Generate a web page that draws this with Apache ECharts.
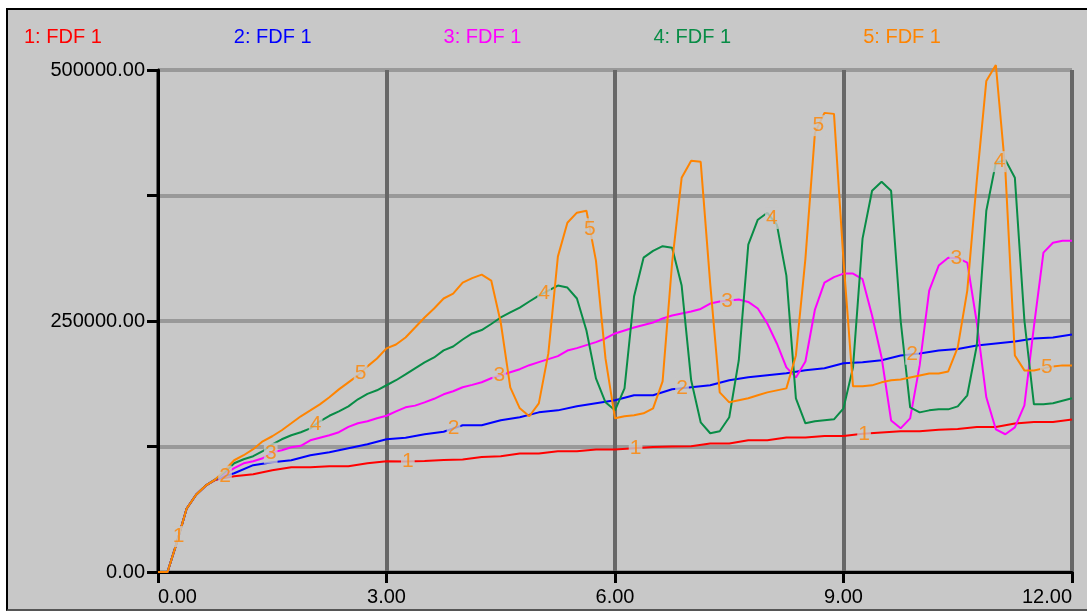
<!DOCTYPE html>
<html>
<head>
<meta charset="utf-8">
<script src="https://cdn.jsdelivr.net/npm/echarts@6/dist/echarts.min.js"></script>
<style>
  html, body { margin:0; padding:0; background:#ffffff; width:1087px; height:611px; overflow:hidden; }
  #frame { position:absolute; left:6px; top:8px; width:1100px; height:599px; background:#c8c8c8;
           border-top:2px solid #000; border-left:2px solid #000; border-bottom:2px solid #555; }
  #chart { position:absolute; left:0; top:0; width:1087px; height:611px; }
</style>
</head>
<body>
<div id="frame"></div>
<div id="chart"></div>
<script>
// time axes
const tFine = Array.from({length: 97}, (_, i) => i * 0.125);
const tCoarse = [0, 0.125, 0.25, 0.375, 0.5, 0.625, 0.75, 0.875]
  .concat(Array.from({length: 45}, (_, i) => 1 + i * 0.25));

const xTicks = [0, 3, 6, 9, 12];
const yLabelValues = [0, 250000, 500000];

const seriesNames = ['1: FDF 1', '2: FDF 1', '3: FDF 1', '4: FDF 1', '5: FDF 1'];
const seriesColors = ['#ff0000', '#0000ff', '#ff00ff', '#088c46', '#ff8400'];

const red = [0,0,30000,63000,77000,86000,91500,93500,
 95400,97400,101400,104400,104400,105400,105400,108300,
 110300,110000,110500,111500,112000,114500,115300,118000,
 118000,120300,120300,122000,122000,123300,124500,125000,
 125300,128000,128000,131200,131200,133900,133900,135500,
 135500,137600,139000,140200,140200,141800,142500,144500,
 144500,148000,149400,149400,151800];

const blue = [0,0,30000,63000,77000,86000,92000,95400,
 98400,106400,109300,111300,116300,119300,123300,127200,
 132200,133700,137200,139700,146100,146100,151100,154100,
 159000,161000,165000,168000,171000,176000,176000,182000,
 184000,186000,191000,194000,196000,198000,201000,203000,
 208000,209000,211000,215700,217700,220700,222200,225600,
 227600,229600,232600,233600,236600];

const magenta = [0,0,30000,63000,77000,86000,92000,97400,
 103400,108300,110300,113300,119300,121300,124300,125700,
 131200,133700,136200,139200,144600,148100,150100,153100,
 155600,160000,164000,165700,169000,172500,177000,180000,
 184000,186400,189000,193000,196000,199000,202000,206000,
 209000,212000,215000,220600,223000,226000,229000,232600,
 237600,240600,243500,246000,248500,252500,255500,257500,
 259500,262000,267400,269400,270400,271400,269000,262400,
 247500,227600,203800,193800,209700,261400,288300,293700,
 297200,297200,291700,255500,213700,151000,143100,153000,
 205800,280300,305200,313100,312600,308100,248500,174000,
 142100,137200,144100,166000,244500,318100,328000,330000,
 330000];

const green = [0,0,30000,63000,77000,86000,92000,99400,
 108300,112300,115300,120300,127200,132200,136200,139200,
 143100,150100,155600,160000,165000,172000,177400,181000,
 186000,191000,196800,202800,208700,213700,220700,224600,
 231600,237600,241000,247000,253500,258500,263400,269400,
 275300,280300,285300,283300,272400,240600,192800,169000,
 161000,182900,274400,313100,319900,324500,323000,285300,
 190900,149100,138200,140200,154100,210700,326000,350900,
 357800,346000,295200,173000,148100,150100,151100,152100,
 163000,203800,332000,379700,388700,379700,250500,164000,
 159000,161000,162000,162000,165000,176000,225600,359800,
 407500,410500,392600,250500,167000,167000,168000,170500,
 173000];

const orange = [0,0,30000,63000,77000,86000,92000,101400,
 111300,116300,122300,130200,135200,141200,148100,155100,
 161000,167000,174000,181900,188900,195800,204800,212700,
 222700,226600,233600,243500,253500,262400,272400,277300,
 288300,292700,296200,290300,248500,183900,163000,155100,
 168000,217700,314100,347900,357900,359800,310100,212700,
 153100,155100,156100,158100,163000,189900,308100,392600,
 409500,408500,287300,178900,169000,171000,173000,176000,
 178900,180900,182900,215700,312100,437400,457300,456300,
 310100,184900,184900,185900,188900,190900,191800,193800,
 195800,197800,197800,199800,223700,280300,389700,489100,
 505000,400000,215700,200800,200800,202800,204800,205800,
 205800];

// times along each curve where its number label sits
const labelTimes = [
  [0.27, 3.28, 6.27, 9.27],
  [0.88, 3.88, 6.88, 9.9],
  [1.48, 4.48, 7.47, 10.48],
  [2.07, 5.07, 8.06, 11.05],
  [2.66, 5.67, 8.67, 11.67]
];

const seriesTimes = [tCoarse, tCoarse, tFine, tFine, tFine];
const seriesValues = [red, blue, magenta, green, orange];

function pointOnCurve(times, vals, t) {
  for (let i = 1; i < times.length; i++) {
    if (times[i] >= t) {
      const f = (t - times[i-1]) / (times[i] - times[i-1]);
      return vals[i-1] + f * (vals[i] - vals[i-1]);
    }
  }
  return vals[vals.length - 1];
}

const FONT = "'Liberation Sans', Arial, Helvetica, sans-serif";

const series = [];
seriesNames.forEach((name, i) => {
  series.push({
    name: name,
    type: 'line',
    data: seriesTimes[i].map((t, k) => [t, seriesValues[i][k]]),
    symbol: 'none',
    clip: false,
    lineStyle: { width: 2, color: seriesColors[i] },
    itemStyle: { color: seriesColors[i] },
    z: 2 + i,
    silent: true
  });
});
seriesNames.forEach((name, i) => {
  series.push({
    name: 'lbl' + (i + 1),
    type: 'scatter',
    data: labelTimes[i].map(t => [t, pointOnCurve(seriesTimes[i], seriesValues[i], t)]),
    symbol: 'circle',
    symbolSize: 1,
    itemStyle: { color: 'rgba(0,0,0,0)' },
    label: {
      show: true, position: 'inside', formatter: String(i + 1),
      color: '#ff8400', fontSize: 21, fontFamily: FONT,
      backgroundColor: '#c8c8c8', padding: [0, 1], lineHeight: 21
    },
    z: 20,
    silent: true
  });
});

const chart = echarts.init(document.getElementById('chart'), null, { renderer: 'canvas' });
chart.setOption({
  animation: false,
  backgroundColor: 'transparent',
  legend: {
    data: seriesNames.map((n, i) => ({ name: n, textStyle: { color: seriesColors[i] } })),
    left: 14, top: 22,
    icon: 'none', itemWidth: 0, itemHeight: 0, itemGap: 127,
    textStyle: { fontSize: 20, fontFamily: FONT },
    selectedMode: false
  },
  grid: { left: 158, right: 15, top: 70, bottom: 39, outerBoundsMode: 'none', containLabel: false },
  xAxis: {
    type: 'value', min: 0, max: 12, interval: 3,
    axisLine: { show: true, onZero: false, lineStyle: { color: '#000', width: 3 } },
    axisTick: { show: true, length: 11, lineStyle: { color: '#000', width: 3 } },
    axisLabel: { color: '#000', fontSize: 20, fontFamily: FONT, margin: 15,
                 alignMinLabel: 'left', alignMaxLabel: 'right',
                 formatter: v => xTicks.includes(v) ? v.toFixed(2) : '' },
    splitLine: { show: true, lineStyle: { color: '#676767', width: 4 } }
  },
  yAxis: {
    type: 'value', min: 0, max: 500000, interval: 125000,
    axisLine: { show: true, onZero: false, lineStyle: { color: '#000', width: 3 } },
    axisTick: { show: true, length: 11, lineStyle: { color: '#000', width: 3 } },
    axisLabel: { color: '#000', fontSize: 20, fontFamily: FONT, margin: 13,
                 formatter: v => yLabelValues.includes(v) ? v.toFixed(2) : '' },
    splitLine: { show: true, lineStyle: { color: '#999999', width: 4 } }
  },
  series: series
});
</script>
</body>
</html>
